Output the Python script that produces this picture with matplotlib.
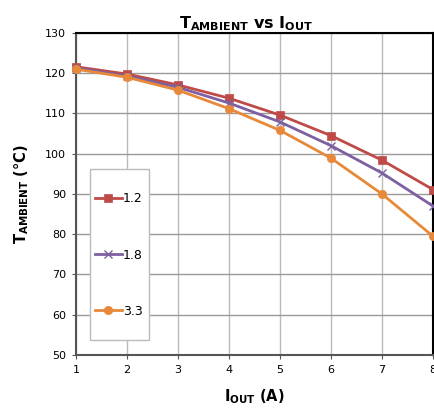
import matplotlib
matplotlib.use('Agg')
from matplotlib import pyplot as plt
from matplotlib.patches import Rectangle

# Output current (A) and max ambient temperature (°C) per output voltage
iout = [1, 2, 3, 4, 5, 6, 7, 8]
t_1v2 = [121.6, 119.8, 117.1, 113.8, 109.6, 104.5, 98.4, 91.1]
t_1v8 = [121.3, 119.3, 116.5, 112.6, 107.9, 102.0, 95.2, 87.0]
t_3v3 = [121.0, 119.0, 115.8, 111.2, 105.8, 98.9, 90.0, 79.5]
labels = ['1.2', '1.8', '3.3']

colors = ['#BE4B48', '#7D60A0', '#E8893A']
markers = ['s', 'x', 'o']

fig = plt.figure(figsize=(4.35, 4.15), dpi=100)
ax = fig.add_axes([0.1747, 0.1446, 0.8207, 0.7759])

for ys, lab, c, m in zip([t_1v2, t_1v8, t_3v3], labels, colors, markers):
    ax.plot(iout, ys, color=c, marker=m, markersize=6, linewidth=2,
            markeredgewidth=1 if m == 'x' else 0.5, label=lab, clip_on=False, zorder=3)

ax.set_xlim(1, 8)
ax.set_ylim(50, 130)
ax.set_xticks(iout)
ax.set_yticks(range(50, 131, 10))
ax.tick_params(labelsize=8, length=3, color='#555555', pad=4)

# grid: lighter verticals, darker horizontals
ax.xaxis.grid(True, color='#BBBBBB', linewidth=1)
ax.yaxis.grid(True, color='#999999', linewidth=1)
ax.set_axisbelow(True)

for side in ['left', 'bottom']:
    ax.spines[side].set_color('#555555')
    ax.spines[side].set_linewidth(1.5)
for side in ['top', 'right']:
    ax.spines[side].set_color('black')
    ax.spines[side].set_linewidth(1.5)

ax.set_title(r'$\mathbf{T_{AMBIENT}}$ vs $\mathbf{I_{OUT}}$', fontsize=11.5, fontweight='bold',
             pad=0.5, x=0.476)
ax.set_xlabel(r'$\mathbf{I_{OUT}}$ (A)', fontsize=10.5, fontweight='bold', labelpad=9)
ax.set_ylabel(r'$\mathbf{T_{AMBIENT}}$ (°C)', fontsize=10.5, fontweight='bold', labelpad=10)

# legend box drawn separately so it can be tall and narrow
ax.add_patch(Rectangle((0.0392, 0.0466), 0.1653, 0.531, transform=ax.transAxes,
                       facecolor='white', edgecolor='#BBBBBB', linewidth=1, zorder=4))
leg = ax.legend(loc='upper left', bbox_to_anchor=(0.053, 0.505), fontsize=9,
                labelspacing=3.45, handlelength=2.15, handletextpad=0.1,
                borderpad=0, borderaxespad=0, frameon=False)
leg.set_zorder(5)

plt.savefig('out.png', dpi=100)
